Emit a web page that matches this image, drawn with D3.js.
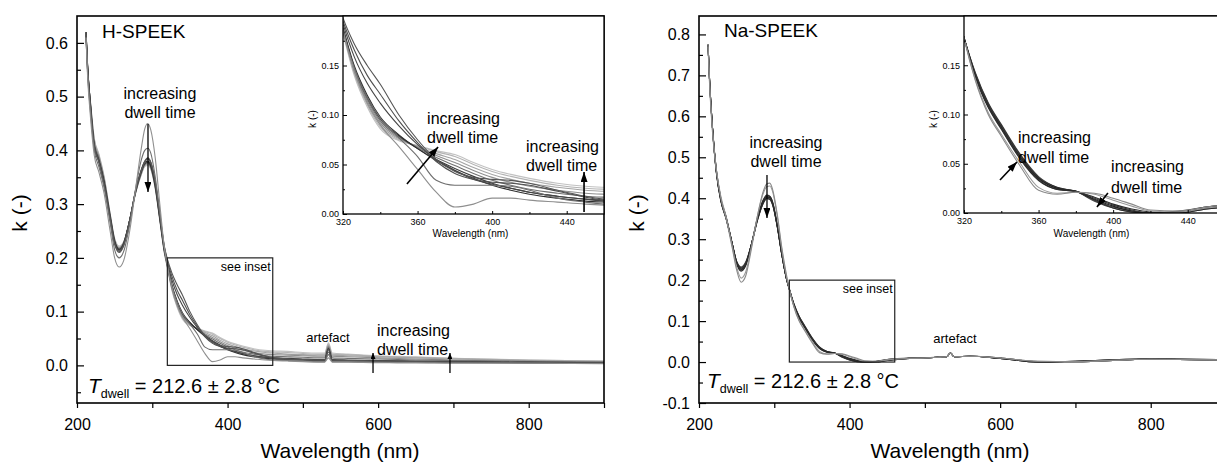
<!DOCTYPE html>
<html>
<head>
<meta charset="utf-8">
<script src="https://cdn.jsdelivr.net/npm/d3@7"></script>
<style>
  body { margin: 0; background: #fff; }
  svg { display: block; }
</style>
</head>
<body>
<svg id="chart" width="1217" height="465"></svg>
<script>
// wavelength grid (nm) shared by every spectrum
const wavelengths = [212, 214, 218, 223, 229, 236, 244, 250, 256, 262,
  270, 278, 285, 290, 294, 298, 304, 310, 316, 320,
  326, 333, 340, 350, 360, 370, 380, 390, 400, 410,
  420, 435, 450, 460, 480, 500, 520, 529, 534, 539,
  560, 600, 650, 700, 800, 900]

// H-SPEEK, k(-) per dwell time (short -> long)
const hSeries = [
  [0.61, 0.54, 0.46, 0.39, 0.36, 0.32, 0.25, 0.2, 0.183, 0.195,
   0.25, 0.33, 0.4, 0.44, 0.45, 0.438, 0.385, 0.3, 0.22, 0.185,
   0.145, 0.112, 0.09, 0.068, 0.045, 0.022, 0.007, 0.01, 0.016, 0.016,
   0.014, 0.012, 0.01, 0.009, 0.008, 0.007, 0.006, 0.006, 0.014, 0.006,
   0.006, 0.005, 0.005, 0.004, 0.004, 0.003],
  [0.61, 0.545, 0.47, 0.4, 0.37, 0.33, 0.265, 0.215, 0.2, 0.212,
   0.262, 0.33, 0.38, 0.4, 0.404, 0.395, 0.35, 0.285, 0.218, 0.186,
   0.148, 0.118, 0.097, 0.077, 0.058, 0.034, 0.029, 0.029, 0.029, 0.028,
   0.024, 0.016, 0.012, 0.01, 0.009, 0.008, 0.007, 0.007, 0.02, 0.007,
   0.007, 0.006, 0.005, 0.005, 0.004, 0.004],
  [0.615, 0.55, 0.475, 0.405, 0.378, 0.335, 0.272, 0.225, 0.21, 0.222,
   0.268, 0.325, 0.36, 0.378, 0.385, 0.378, 0.342, 0.282, 0.222, 0.198,
   0.172, 0.15, 0.131, 0.1, 0.075, 0.055, 0.043, 0.037, 0.035, 0.034,
   0.031, 0.024, 0.018, 0.015, 0.012, 0.011, 0.01, 0.01, 0.025, 0.01,
   0.009, 0.008, 0.007, 0.006, 0.005, 0.004],
  [0.62, 0.555, 0.478, 0.408, 0.38, 0.337, 0.274, 0.227, 0.212, 0.224,
   0.27, 0.326, 0.362, 0.38, 0.386, 0.378, 0.34, 0.28, 0.22, 0.195,
   0.166, 0.14, 0.121, 0.094, 0.072, 0.053, 0.041, 0.035, 0.032, 0.031,
   0.029, 0.023, 0.017, 0.014, 0.012, 0.011, 0.01, 0.01, 0.03, 0.01,
   0.009, 0.008, 0.007, 0.006, 0.005, 0.004],
  [0.62, 0.558, 0.48, 0.41, 0.382, 0.34, 0.276, 0.229, 0.214, 0.226,
   0.271, 0.326, 0.362, 0.379, 0.384, 0.376, 0.338, 0.278, 0.218, 0.192,
   0.159, 0.132, 0.112, 0.089, 0.07, 0.055, 0.044, 0.035, 0.03, 0.026,
   0.022, 0.018, 0.015, 0.013, 0.011, 0.01, 0.009, 0.009, 0.03, 0.009,
   0.008, 0.007, 0.007, 0.006, 0.005, 0.004],
  [0.62, 0.56, 0.482, 0.405, 0.38, 0.34, 0.275, 0.23, 0.215, 0.226,
   0.27, 0.325, 0.36, 0.377, 0.38, 0.372, 0.335, 0.275, 0.215, 0.188,
   0.15, 0.12, 0.098, 0.08, 0.066, 0.054, 0.044, 0.036, 0.029, 0.024,
   0.02, 0.016, 0.013, 0.012, 0.011, 0.01, 0.009, 0.009, 0.03, 0.009,
   0.008, 0.008, 0.007, 0.006, 0.005, 0.004],
  [0.62, 0.56, 0.483, 0.408, 0.382, 0.342, 0.277, 0.231, 0.216, 0.227,
   0.27, 0.324, 0.358, 0.375, 0.378, 0.37, 0.333, 0.274, 0.214, 0.187,
   0.148, 0.118, 0.096, 0.079, 0.066, 0.055, 0.046, 0.038, 0.031, 0.026,
   0.022, 0.018, 0.015, 0.014, 0.013, 0.012, 0.011, 0.011, 0.032, 0.011,
   0.01, 0.009, 0.008, 0.007, 0.006, 0.005],
  [0.615, 0.558, 0.485, 0.412, 0.386, 0.345, 0.279, 0.232, 0.217, 0.228,
   0.27, 0.323, 0.357, 0.374, 0.377, 0.369, 0.332, 0.273, 0.213, 0.186,
   0.146, 0.116, 0.094, 0.078, 0.067, 0.057, 0.049, 0.041, 0.034, 0.029,
   0.025, 0.021, 0.018, 0.017, 0.016, 0.015, 0.014, 0.014, 0.034, 0.014,
   0.013, 0.012, 0.01, 0.009, 0.007, 0.006],
  [0.612, 0.555, 0.486, 0.415, 0.388, 0.347, 0.28, 0.233, 0.218, 0.228,
   0.27, 0.323, 0.356, 0.373, 0.376, 0.368, 0.331, 0.272, 0.212, 0.185,
   0.145, 0.114, 0.092, 0.077, 0.068, 0.059, 0.052, 0.044, 0.037, 0.032,
   0.028, 0.024, 0.021, 0.02, 0.019, 0.018, 0.017, 0.017, 0.036, 0.017,
   0.016, 0.014, 0.012, 0.01, 0.008, 0.006],
  [0.61, 0.553, 0.487, 0.418, 0.39, 0.348, 0.281, 0.234, 0.219, 0.229,
   0.27, 0.322, 0.355, 0.372, 0.375, 0.367, 0.33, 0.271, 0.211, 0.184,
   0.143, 0.112, 0.09, 0.076, 0.068, 0.061, 0.055, 0.047, 0.04, 0.035,
   0.031, 0.027, 0.024, 0.023, 0.021, 0.02, 0.019, 0.019, 0.038, 0.019,
   0.018, 0.016, 0.014, 0.012, 0.009, 0.007],
  [0.608, 0.55, 0.488, 0.42, 0.392, 0.35, 0.282, 0.235, 0.22, 0.229,
   0.27, 0.322, 0.354, 0.371, 0.374, 0.366, 0.329, 0.27, 0.21, 0.183,
   0.142, 0.11, 0.088, 0.075, 0.069, 0.063, 0.058, 0.05, 0.043, 0.038,
   0.034, 0.029, 0.026, 0.025, 0.024, 0.022, 0.021, 0.021, 0.04, 0.021,
   0.02, 0.017, 0.015, 0.013, 0.01, 0.008],
  [0.605, 0.548, 0.49, 0.422, 0.394, 0.352, 0.283, 0.236, 0.222, 0.23,
   0.27, 0.321, 0.353, 0.37, 0.372, 0.365, 0.328, 0.269, 0.209, 0.182,
   0.14, 0.108, 0.086, 0.074, 0.069, 0.064, 0.06, 0.052, 0.045, 0.04,
   0.036, 0.031, 0.028, 0.027, 0.026, 0.024, 0.023, 0.023, 0.042, 0.023,
   0.021, 0.018, 0.016, 0.013, 0.01, 0.008]
]
const hColors = ['#8f8f8f', '#6e6e6e', '#555555', '#4f4f4f', '#454545', '#2e2e2e',
  '#3a3a3a', '#707070', '#8e8e8e', '#a4a4a4', '#b4b4b4', '#c2c2c2']

// Na-SPEEK, k(-) per dwell time (short -> long)
const naSeries = [
  [0.77, 0.68, 0.56, 0.47, 0.4, 0.35, 0.28, 0.225, 0.195, 0.21,
   0.28, 0.36, 0.415, 0.435, 0.437, 0.42, 0.36, 0.28, 0.215, 0.178,
   0.135, 0.1, 0.078, 0.048, 0.023, 0.019, 0.021, 0.02, 0.015, 0.009,
   0.003, 0.002, 0.006, 0.008, 0.009, 0.01, 0.012, 0.013, 0.022, 0.013,
   0.014, 0.01, 0.002, 0.001, 0.007, 0.005],
  [0.775, 0.685, 0.565, 0.47, 0.405, 0.355, 0.285, 0.232, 0.205, 0.22,
   0.285, 0.36, 0.41, 0.428, 0.43, 0.415, 0.355, 0.275, 0.21, 0.178,
   0.136, 0.102, 0.08, 0.051, 0.026, 0.02, 0.021, 0.019, 0.013, 0.007,
   0.002, 0.001, 0.005, 0.007, 0.009, 0.01, 0.012, 0.013, 0.022, 0.013,
   0.014, 0.01, 0.002, 0.001, 0.007, 0.005],
  [0.775, 0.69, 0.57, 0.47, 0.4, 0.355, 0.29, 0.24, 0.222, 0.235,
   0.29, 0.355, 0.395, 0.408, 0.405, 0.39, 0.335, 0.265, 0.205, 0.178,
   0.138, 0.107, 0.085, 0.055, 0.033, 0.024, 0.022, 0.016, 0.009, 0.004,
   0.001, 0.0, 0.004, 0.006, 0.009, 0.01, 0.012, 0.013, 0.022, 0.013,
   0.014, 0.01, 0.001, 0.001, 0.007, 0.005],
  [0.775, 0.69, 0.57, 0.468, 0.398, 0.354, 0.29, 0.242, 0.224, 0.237,
   0.29, 0.354, 0.393, 0.406, 0.404, 0.388, 0.333, 0.264, 0.205, 0.178,
   0.139, 0.108, 0.086, 0.056, 0.034, 0.024, 0.022, 0.015, 0.008, 0.003,
   0.0, 0.0, 0.004, 0.006, 0.009, 0.01, 0.012, 0.013, 0.022, 0.013,
   0.014, 0.01, 0.001, 0.001, 0.007, 0.005],
  [0.775, 0.69, 0.57, 0.466, 0.396, 0.352, 0.29, 0.243, 0.226, 0.238,
   0.29, 0.352, 0.39, 0.404, 0.402, 0.386, 0.332, 0.263, 0.205, 0.178,
   0.14, 0.109, 0.087, 0.057, 0.035, 0.025, 0.022, 0.014, 0.007, 0.002,
   0.0, 0.001, 0.005, 0.007, 0.009, 0.01, 0.012, 0.013, 0.022, 0.013,
   0.014, 0.009, 0.001, 0.001, 0.007, 0.005],
  [0.775, 0.69, 0.57, 0.465, 0.395, 0.351, 0.29, 0.244, 0.228, 0.24,
   0.29, 0.35, 0.388, 0.402, 0.4, 0.385, 0.331, 0.263, 0.205, 0.178,
   0.141, 0.11, 0.088, 0.058, 0.036, 0.025, 0.022, 0.013, 0.006, 0.002,
   0.0, 0.001, 0.005, 0.007, 0.009, 0.01, 0.012, 0.013, 0.022, 0.013,
   0.014, 0.009, 0.0, 0.002, 0.007, 0.005],
  [0.775, 0.69, 0.57, 0.464, 0.394, 0.35, 0.29, 0.245, 0.23, 0.242,
   0.29, 0.349, 0.387, 0.4, 0.398, 0.383, 0.33, 0.262, 0.205, 0.178,
   0.142, 0.111, 0.089, 0.059, 0.036, 0.026, 0.022, 0.013, 0.005, 0.001,
   0.0, 0.001, 0.006, 0.008, 0.009, 0.01, 0.012, 0.013, 0.022, 0.013,
   0.014, 0.009, 0.0, 0.002, 0.008, 0.006],
  [0.775, 0.69, 0.57, 0.463, 0.393, 0.35, 0.29, 0.246, 0.232, 0.244,
   0.29, 0.348, 0.386, 0.399, 0.397, 0.382, 0.33, 0.262, 0.205, 0.178,
   0.143, 0.112, 0.09, 0.06, 0.037, 0.026, 0.022, 0.012, 0.005, 0.001,
   0.0, 0.002, 0.006, 0.008, 0.01, 0.011, 0.012, 0.013, 0.022, 0.013,
   0.014, 0.009, 0.0, 0.002, 0.008, 0.006]
]
const naColors = ['#8a8a8a', '#9a9a9a', '#2a2a2a', '#333333', '#222222', '#3d3d3d', '#2d2d2d', '#444444']

// tick values
const mainXTicks = [200, 400, 600, 800]
const mainXMinor = [300, 500, 700, 900]
const hYTicks = [0, 0.1, 0.2, 0.3, 0.4, 0.5, 0.6]
const hYMinor = [-0.05, 0.05, 0.15, 0.25, 0.35, 0.45, 0.55]
const naYTicks = [-0.1, 0, 0.1, 0.2, 0.3, 0.4, 0.5, 0.6, 0.7, 0.8]
const naYMinor = [-0.05, 0.05, 0.15, 0.25, 0.35, 0.45, 0.55, 0.65, 0.75]
const insetXTicks = [320, 360, 400, 440]
const insetXMinor = [340, 380, 420]
const insetYTicks = [0, 0.05, 0.1, 0.15]
const insetYMinor = [0.025, 0.075, 0.125, 0.175]

const FONT = '"Liberation Sans", Arial, sans-serif'
const TOP = 16, BOTTOM = 403, PLOT_W = 527, INSET_W = 261

const svg = d3.select('#chart')
const defs = svg.append('defs')

function addArrowHead (id, len, wid) {
  defs.append('marker').attr('id', id)
    .attr('viewBox', `0 0 ${len} ${wid}`)
    .attr('refX', len).attr('refY', wid / 2)
    .attr('markerWidth', len).attr('markerHeight', wid)
    .attr('markerUnits', 'userSpaceOnUse')
    .attr('orient', 'auto')
    .append('path').attr('d', `M0,0L${len},${wid / 2}L0,${wid}Z`).attr('fill', '#000')
}
addArrowHead('head', 10, 7)
addArrowHead('headSmall', 6, 5)

function addClip (id, x0, y0, w, h) {
  defs.append('clipPath').attr('id', id)
    .append('rect').attr('x', x0).attr('y', y0).attr('width', w).attr('height', h)
}

function drawCurves (g, series, colors, x, y, clipId) {
  const line = d3.line().x(d => x(d[0])).y(d => y(d[1])).curve(d3.curveMonotoneX)
  const rows = series.map((s, i) => ({pts: wavelengths.map((w, j) => [w, s[j]]), color: colors[i]})).reverse()
  g.append('g').attr('clip-path', `url(#${clipId})`)
    .selectAll('path').data(rows).join('path')
    .attr('d', d => line(d.pts))
    .attr('fill', 'none')
    .attr('stroke', d => d.color)
    .attr('stroke-width', 1.1)
}

function styleAxis (sel, size) {
  sel.attr('font-family', FONT).attr('font-size', size)
  sel.select('.domain').remove()
  sel.selectAll('.tick line').attr('stroke', '#000').attr('stroke-width', 1.2)
  sel.selectAll('.tick text').attr('fill', '#000')
}

function addText (g, x, y, str, size, anchor = 'start') {
  return g.append('text').attr('x', x).attr('y', y)
    .attr('font-family', FONT).attr('font-size', size)
    .attr('text-anchor', anchor).attr('fill', '#000').text(str)
}

function addArrow (g, x1, y1, x2, y2, marker, width = 1.3) {
  g.append('line').attr('x1', x1).attr('y1', y1).attr('x2', x2).attr('y2', y2)
    .attr('stroke', '#000').attr('stroke-width', width)
    .attr('marker-end', `url(#${marker})`)
}

function drawPanel (p) {
  const g = svg.append('g')
  const x = d3.scaleLinear().domain([200, 900]).range([p.left, p.left + PLOT_W])
  const y = d3.scaleLinear().domain(p.yDomain).range([BOTTOM, TOP])
  addClip(p.key + 'Main', p.left, TOP, PLOT_W, BOTTOM - TOP)

  drawCurves(g, p.series, p.colors, x, y, p.key + 'Main')

  // axes
  g.append('g').attr('transform', `translate(0,${BOTTOM})`)
    .call(d3.axisBottom(x).tickValues(mainXTicks).tickSize(5).tickPadding(11).tickFormat(d3.format('d')))
    .call(s => styleAxis(s, 16))
  g.append('g').attr('transform', `translate(0,${BOTTOM})`)
    .call(d3.axisBottom(x).tickValues(mainXMinor).tickSize(5).tickFormat(''))
    .call(s => styleAxis(s, 16))
  g.append('g').attr('transform', `translate(${p.left},0)`)
    .call(d3.axisLeft(y).tickValues(p.yTicks).tickSize(-7).tickPadding(9).tickFormat(d => d.toFixed(1)))
    .call(s => styleAxis(s, 16))
  g.append('g').attr('transform', `translate(${p.left},0)`)
    .call(d3.axisLeft(y).tickValues(p.yMinor).tickSize(-4).tickFormat(''))
    .call(s => styleAxis(s, 16))

  g.append('rect').attr('x', p.left).attr('y', TOP).attr('width', PLOT_W).attr('height', BOTTOM - TOP)
    .attr('fill', 'none').attr('stroke', '#000').attr('stroke-width', 1.6)

  addText(g, p.xLabelX, 458, 'Wavelength (nm)', 21, 'middle')
  g.append('text').attr('transform', `translate(${p.yLabelX},213) rotate(-90)`)
    .attr('dy', '0.35em').attr('text-anchor', 'middle')
    .attr('font-family', FONT).attr('font-size', 21).text('k (-)')

  addText(g, x(p.title[1]), y(p.title[2]), p.title[0], 19)

  // T_dwell
  const t = g.append('text').attr('x', x(p.tdwell[0])).attr('y', y(p.tdwell[1]))
    .attr('font-family', FONT).attr('fill', '#000')
  t.append('tspan').attr('font-size', 21).attr('font-style', 'italic').text('T')
  t.append('tspan').attr('font-size', 12.5).attr('dy', 5).text('dwell')
  t.append('tspan').attr('font-size', 20).attr('dy', -5).text(' = 212.6 ± 2.8 °C')

  // see inset box
  g.append('rect').attr('x', x(320)).attr('y', y(0.2))
    .attr('width', x(460) - x(320)).attr('height', y(0) - y(0.2))
    .attr('fill', 'none').attr('stroke', '#222').attr('stroke-width', 1.2)
  addText(g, x(460) - 2, y(0.2) + 13, 'see inset', 12.5, 'end')

  addText(g, x(p.artefact[0]), y(p.artefact[1]), 'artefact', 13, 'middle')

  p.mainNotes.forEach(n => {
    n.lines.forEach((str, i) => addText(g, x(n.at[0]), y(n.at[1 + i]), str, 16, n.anchor))
  })
  p.mainArrows.forEach(a => addArrow(g, x(a[0]), y(a[1]), x(a[2]), y(a[3]), a[4]))

  // inset
  const gi = svg.append('g')
  const xi = d3.scaleLinear().domain([320, 460]).range([p.insetLeft, p.insetLeft + INSET_W])
  const yi = d3.scaleLinear().domain([0, 0.2]).range([p.insetBottom, TOP])
  addClip(p.key + 'Inset', p.insetLeft, TOP, INSET_W, p.insetBottom - TOP)
  gi.append('rect').attr('x', p.insetLeft).attr('y', TOP)
    .attr('width', INSET_W).attr('height', p.insetBottom - TOP).attr('fill', '#fff')
  drawCurves(gi, p.series, p.colors, xi, yi, p.key + 'Inset')

  gi.append('g').attr('transform', `translate(0,${p.insetBottom})`)
    .call(d3.axisBottom(xi).tickValues(insetXTicks).tickSize(-3).tickPadding(5).tickFormat(d3.format('d')))
    .call(s => styleAxis(s, 9))
  gi.append('g').attr('transform', `translate(0,${p.insetBottom})`)
    .call(d3.axisBottom(xi).tickValues(insetXMinor).tickSize(-2).tickFormat(''))
    .call(s => styleAxis(s, 9))
  gi.append('g').attr('transform', `translate(${p.insetLeft},0)`)
    .call(d3.axisLeft(yi).tickValues(insetYTicks).tickSize(-4).tickPadding(4).tickFormat(d => d.toFixed(2)))
    .call(s => styleAxis(s, 9))
  gi.append('g').attr('transform', `translate(${p.insetLeft},0)`)
    .call(d3.axisLeft(yi).tickValues(insetYMinor).tickSize(-2).tickFormat(''))
    .call(s => styleAxis(s, 9))
  gi.selectAll('.tick line').attr('stroke-width', 1)

  gi.append('rect').attr('x', p.insetLeft).attr('y', TOP)
    .attr('width', INSET_W).attr('height', p.insetBottom - TOP)
    .attr('fill', 'none').attr('stroke', '#000').attr('stroke-width', 1.3)

  addText(gi, p.insetLeft + INSET_W / 2 - 3, 237, 'Wavelength (nm)', 10, 'middle')
  gi.append('text').attr('transform', `translate(${p.insetLeft - 31},119) rotate(-90)`)
    .attr('dy', '0.35em').attr('text-anchor', 'middle')
    .attr('font-family', FONT).attr('font-size', 10).text('k (-)')

  p.insetNotes.forEach(n => {
    n.lines.forEach((str, i) => addText(gi, xi(n.at[0]), yi(n.at[1 + i]), str, 16, 'start'))
  })
  p.insetArrows.forEach(a => addArrow(gi, xi(a[0]), yi(a[1]), xi(a[2]), yi(a[3]), 'head', 1.6))
}

const notes = ['increasing', 'dwell time']

drawPanel({
  key: 'h', left: 77, yDomain: [-0.07, 0.65], yTicks: hYTicks, yMinor: hYMinor,
  series: hSeries, colors: hColors,
  xLabelX: 340, yLabelX: 20,
  title: ['H-SPEEK', 233.2, 0.609],
  tdwell: [214.6, -0.0514],
  artefact: [533.4, 0.0435],
  mainNotes: [
    {lines: notes, at: [310.2, 0.4956, 0.4602], anchor: 'middle'},
    {lines: notes, at: [598.5, 0.0547, 0.0193], anchor: 'start'}
  ],
  mainArrows: [
    [294.3, 0.449, 294.3, 0.3226, 'head'],
    [593.2, -0.0142, 593.2, 0.023, 'headSmall'],
    [695.4, -0.0142, 695.4, 0.023, 'headSmall']
  ],
  insetLeft: 343, insetBottom: 214,
  insetNotes: [
    {lines: notes, at: [365.1, 0.0909, 0.0717]},
    {lines: notes, at: [418.2, 0.0626, 0.0434]}
  ],
  insetArrows: [
    [354.3, 0.0303, 371, 0.0677],
    [449.3, 0.002, 449.3, 0.0424]
  ]
})

drawPanel({
  key: 'na', left: 699, yDomain: [-0.1, 0.845], yTicks: naYTicks, yMinor: naYMinor,
  series: naSeries, colors: naColors,
  xLabelX: 950, yLabelX: 637,
  title: ['Na-SPEEK', 233.2, 0.7937],
  tdwell: [210.6, -0.0634],
  artefact: [540, 0.0465],
  mainNotes: [
    {lines: notes, at: [315.6, 0.5227, 0.4763], anchor: 'middle'}
  ],
  mainArrows: [
    [290.3, 0.4568, 290.3, 0.3518, 'head']
  ],
  insetLeft: 964, insetBottom: 213,
  insetNotes: [
    {lines: notes, at: [349, 0.0711, 0.0508]},
    {lines: notes, at: [398.9, 0.0416, 0.0203]}
  ],
  insetArrows: [
    [339.3, 0.0335, 348.4, 0.0518],
    [397.2, 0.0203, 391.3, 0.0061]
  ]
})
</script>
</body>
</html>
